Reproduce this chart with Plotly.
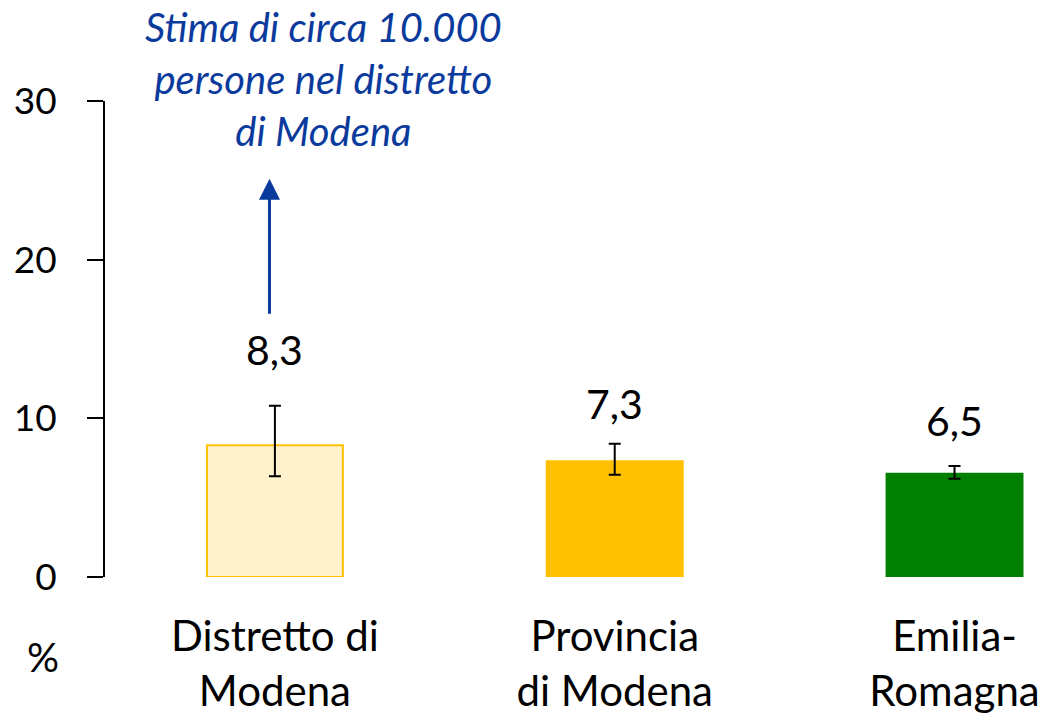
import plotly.graph_objects as go

# Prevalence (%) with 95% confidence interval
categories = ["Distretto di<br>Modena", "Provincia<br>di Modena", "Emilia-<br>Romagna"]
values = [8.3, 7.3, 6.5]
ci_upper = [10.8, 8.4, 7.0]
ci_lower = [6.35, 6.45, 6.2]
value_labels = ["8,3", "7,3", "6,5"]
y_ticks = [0, 10, 20, 30]

fill_colors = ["#FFF2CC", "#FFC000", "#008000"]
line_colors = ["#FFC000", "#FFC000", "#008000"]
NOTE_BLUE = "#0A3A9C"
FONT = "Lato"

xs = list(range(len(categories)))
err_plus = [u - v for u, v in zip(ci_upper, values)]
err_minus = [v - l for v, l in zip(values, ci_lower)]

fig = go.Figure()
fig.add_trace(go.Bar(
    x=xs,
    y=values,
    width=0.4,
    marker=dict(color=fill_colors, line=dict(color=line_colors, width=2)),
    error_y=dict(type="data", symmetric=False, array=err_plus, arrayminus=err_minus,
                 color="black", thickness=2, width=6),
    hoverinfo="skip",
))

# value labels above the confidence intervals (pixel gap per bar)
label_gaps = [30, 14, 19]
for x, top, txt, gap in zip(xs, ci_upper, value_labels, label_gaps):
    fig.add_annotation(x=x, y=top, text=txt, showarrow=False, yanchor="bottom",
                       yshift=gap, font=dict(family=FONT, size=41, color="black"))

# arrow pointing up from the district bar
fig.add_annotation(x=-0.016, y=25.1, ax=-0.016, ay=16.5, xref="x", yref="y",
                   axref="x", ayref="y", text="", showarrow=True,
                   arrowhead=2, arrowsize=1.4, arrowwidth=3, arrowcolor=NOTE_BLUE)

fig.add_annotation(
    x=(323 - 105) / 944, xref="paper", xanchor="center",
    y=1.21, yref="paper", yanchor="top",
    text="<i>Stima di circa 10.000<br>persone nel distretto<br>di Modena</i>",
    showarrow=False, align="center",
    font=dict(family=FONT, size=40, color=NOTE_BLUE),
)

fig.add_annotation(x=(43 - 105) / 944, xref="paper", xanchor="center",
                   y=-0.168, yref="paper", yanchor="middle", text="%",
                   showarrow=False, font=dict(family=FONT, size=40, color="black"))

fig.update_layout(
    width=1049, height=714,
    margin=dict(l=105, r=0, t=101, b=137),
    plot_bgcolor="white", paper_bgcolor="white",
    showlegend=False,
    font=dict(family=FONT, color="black"),
)
fig.update_xaxes(
    range=[-0.5, 2.278], tickvals=xs, ticktext=categories,
    showline=False, showgrid=False, ticks="", zeroline=False,
    tickfont=dict(family=FONT, size=42), ticklabelstandoff=31,
)
fig.update_yaxes(
    range=[0, 30], tickvals=y_ticks, ticktext=[str(t) for t in y_ticks],
    showline=True, linecolor="black", linewidth=2,
    ticks="outside", ticklen=16, tickwidth=2, tickcolor="black",
    showgrid=False, zeroline=False,
    tickfont=dict(family=FONT, size=37), ticklabelstandoff=23,
)

fig.write_html("out.html")
